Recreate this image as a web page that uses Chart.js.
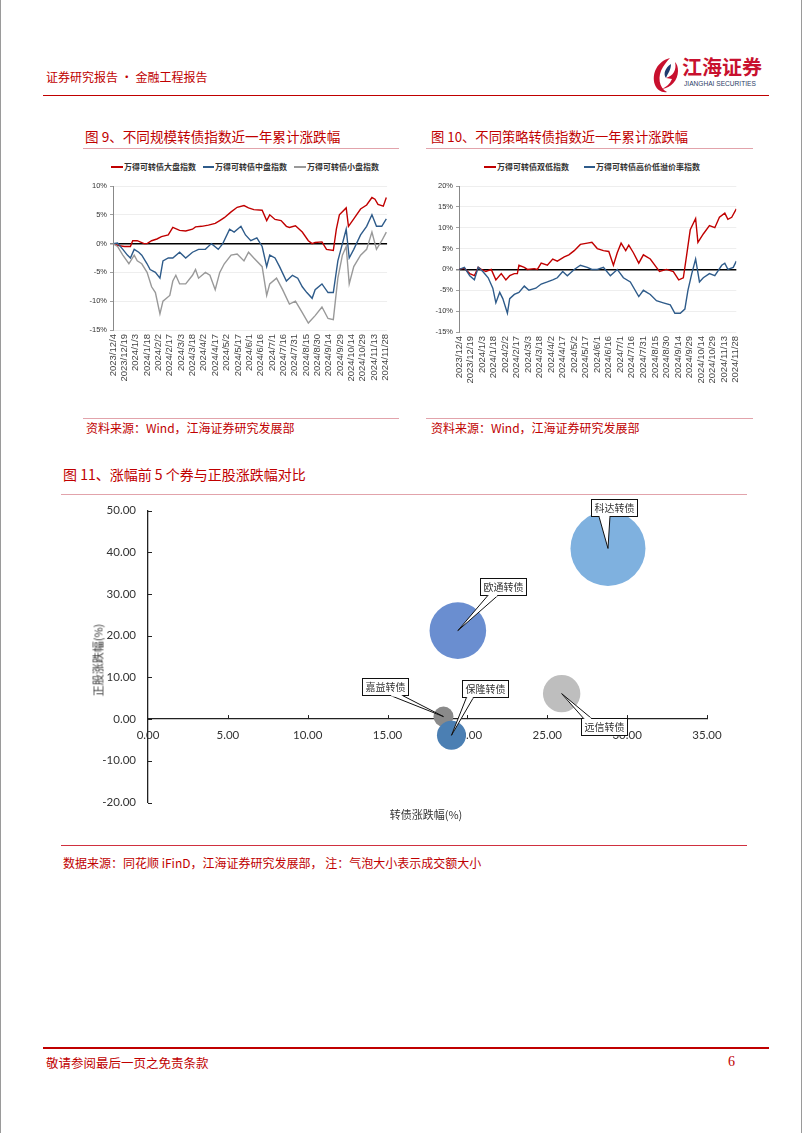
<!DOCTYPE html>
<html><head><meta charset="utf-8">
<script src="https://cdn.jsdelivr.net/npm/chart.js@4.4.1/dist/chart.umd.min.js"></script>
<style>
html,body{margin:0;padding:0;background:#fff;}
#page{position:relative;width:802px;height:1133px;overflow:hidden;font-family:'Noto Sans CJK SC',sans-serif;box-sizing:border-box;border-left:1px solid #9a9a9a;border-right:1px solid #9a9a9a;background:#fff;}
.t{position:absolute;white-space:nowrap;line-height:1;}
.red{color:#C00000;}
.ln{position:absolute;height:0;}
canvas{position:absolute;}
.lg{position:absolute;height:2px;}
.lt{position:absolute;white-space:nowrap;line-height:1;font-size:8px;font-weight:bold;color:#333;}
</style></head>
<body><div id="page">
<div class="t red" style="left:45px;top:71px;font-size:12px;">证券研究报告 · 金融工程报告</div>
<svg style="position:absolute;left:650px;top:56px" width="30" height="38" viewBox="0 0 30 38">
 <path d="M19 2 C7 5 0 17 4 29 C6 34 11 37 16 36 C8 32 6 20 12 11 C14 8 16 5 19 2 Z" fill="#C8102E"/>
 <path d="M24 6 C26 14 22 20 15 22 L21 23 C19 28 15 31 11 33 C20 32 27 24 27 15 C27 11 26 8 24 6 Z" fill="#C8102E"/>
 <path d="M20 8 C14 12 12 18 15 22 C17 17 20 14 20 8 Z" fill="#1F3A6E"/>
</svg>
<div class="t" style="left:681px;top:57px;font-size:20px;font-weight:bold;color:#C8102E;">江海证券</div>
<div class="t" style="left:683px;top:81px;font-size:6.6px;color:#2a3d66;font-family:'Liberation Sans';">JIANGHAI SECURITIES</div>
<div class="ln" style="left:42px;top:95px;width:726px;border-top:1.5px solid #C00000;"></div>

<div class="t red" style="left:84px;top:130px;font-size:13.6px;">图 9、不同规模转债指数近一年累计涨跌幅</div>
<div class="ln" style="left:82px;top:148px;width:316px;border-top:1px solid #E2A3AB;"></div>
<div class="t red" style="left:430px;top:130px;font-size:13.3px;">图 10、不同策略转债指数近一年累计涨跌幅</div>
<div class="ln" style="left:425px;top:148px;width:327px;border-top:1px solid #E2A3AB;"></div>

<div class="lg" style="left:110px;top:166px;width:12px;background:#C00000"></div><div class="lt" style="left:123px;top:163px">万得可转债大盘指数</div>
<div class="lg" style="left:202px;top:166px;width:11px;background:#2E5B8A"></div><div class="lt" style="left:214px;top:163px">万得可转债中盘指数</div>
<div class="lg" style="left:293px;top:166px;width:12px;background:#999"></div><div class="lt" style="left:306px;top:163px">万得可转债小盘指数</div>
<div class="lg" style="left:483px;top:166px;width:12px;background:#C00000"></div><div class="lt" style="left:496px;top:163px">万得可转债双低指数</div>
<div class="lg" style="left:583px;top:166px;width:11px;background:#2E5B8A"></div><div class="lt" style="left:595px;top:163px">万得可转债高价低溢价率指数</div>

<canvas id="c9" width="320" height="240" style="left:80px;top:176px"></canvas>
<canvas id="c10" width="330" height="240" style="left:420px;top:176px"></canvas>

<div class="ln" style="left:82px;top:418px;width:316px;border-top:1px solid #E2A3AB;"></div>
<div class="ln" style="left:425px;top:418px;width:327px;border-top:1px solid #E2A3AB;"></div>
<div class="t red" style="left:85px;top:422px;font-size:12px;">资料来源：Wind，江海证券研究发展部</div>
<div class="t red" style="left:430px;top:422px;font-size:12px;">资料来源：Wind，江海证券研究发展部</div>

<div class="t red" style="left:62px;top:467px;font-size:14px;">图 11、涨幅前 5 个券与正股涨跌幅对比</div>
<div class="ln" style="left:60px;top:494px;width:686px;border-top:1px solid #E2A3AB;"></div>
<canvas id="c11" width="690" height="340" style="left:60px;top:497px"></canvas>
<div class="t" style="left:97px;top:660px;font-size:11px;color:#333;transform:translate(-50%,-50%) rotate(-90deg);">正股涨跌幅(%)</div>
<div class="t" style="left:425px;top:814px;font-size:11px;color:#333;transform:translate(-50%,-50%);">转债涨跌幅(%)</div>
<div class="ln" style="left:60px;top:845px;width:686px;border-top:1px solid #D0303F;"></div>
<div class="t red" style="left:62px;top:857px;font-size:12px;">数据来源：同花顺 iFinD，江海证券研究发展部， 注：气泡大小表示成交额大小</div>

<div class="ln" style="left:42px;top:1047px;width:726px;border-top:2px solid #C00000;"></div>
<div class="t red" style="left:45px;top:1057px;font-size:12.5px;">敬请参阅最后一页之免责条款</div>
<div class="t red" style="left:727px;top:1055px;font-size:14px;font-family:'Liberation Serif';">6</div>
</div>
<script>
// ---- shared x tick labels (day offset from 2023/12/4) ----
const tickDays = [0,15,30,45,60,75,90,105,120,135,150,165,180,195,210,225,240,255,270,285,300,315,330,345,360];
const tickLabels = ['2023/12/4','2023/12/19','2024/1/3','2024/1/18','2024/2/2','2024/2/17','2024/3/3','2024/3/18','2024/4/2','2024/4/17','2024/5/2','2024/5/17','2024/6/1','2024/6/16','2024/7/1','2024/7/16','2024/7/31','2024/8/15','2024/8/30','2024/9/14','2024/9/29','2024/10/14','2024/10/29','2024/11/13','2024/11/28'];

// ---- Fig 9 ----
const bigDays = [0,6,15,23,26,32,41,45,51,58,64,73,79,88,96,105,109,117,126,135,141,147,156,164,173,179,186,197,203,207,214,222,229,233,241,250,258,263,267,276,282,291,295,299,308,311,318,327,335,342,346,350,357,361];
const bigVals = [0,-0.3,-0.5,-0.5,0.5,0.5,0,0,0.5,0.8,1.2,1.5,2.8,2.3,2.2,2.5,2.9,3.0,3.2,3.5,4.0,4.5,5.5,6.3,6.6,6.2,5.9,5.8,4.0,5.0,4.2,4.0,3.0,2.8,3.1,2.0,0.5,0,0.2,0.3,-1,-1.2,2.5,5.0,6.2,3.0,4.3,6.0,6.7,8.0,7.7,6.8,6.5,8.0];
const midDays = [0,6,13,19,23,28,34,38,45,49,56,62,66,73,79,88,96,105,113,122,130,139,145,154,160,169,175,182,190,197,203,207,214,220,229,237,244,250,256,263,267,276,284,291,297,301,308,312,318,327,335,342,348,355,361];
const midVals = [0,0.1,-1,-2,-2.5,-1,-1.5,-2,-3.5,-4.5,-5,-6,-3,-2.5,-2.5,-1.5,-2.5,-1.5,-1,-1,0,-1,0,2.5,2.0,3.0,1.5,0.5,1.0,-0.5,-4.0,-2,-2.5,-4,-6.5,-5.5,-6,-7.5,-8.5,-9.5,-8,-7,-8.5,-8.5,-3,-1,2.5,-2.5,-1,1.5,3.0,5,3,3,4.3];
const smallDays = [0,6,13,21,28,32,38,45,51,56,62,66,75,79,83,88,96,105,109,113,122,128,135,141,147,156,164,173,179,186,197,203,207,216,224,233,241,250,258,267,276,284,291,297,303,308,312,318,327,335,342,348,355,361];
const smallVals = [0,-0.5,-2,-3.5,-2,-3,-3.5,-5,-7.5,-8.5,-12.2,-10,-9,-6.5,-5.5,-7,-7,-5.5,-4.5,-6,-5,-5.5,-8,-5,-3.5,-2,-1.8,-3,-1.5,-2.5,-4,-9,-7,-6,-8,-10.5,-10,-12,-13.8,-12.5,-11,-13,-13.2,-6,-2,-0.5,-7,-4,-2,-1,2,-1,0.5,2];

// ---- Fig 10 ----
const dlDays = [0,7,14,20,25,29,35,42,48,55,61,66,72,76,78,85,89,98,102,107,115,122,128,137,143,150,158,167,173,180,188,195,201,206,211,217,221,227,234,240,249,257,261,270,279,286,292,296,301,308,311,318,326,333,339,346,350,355,361];
const dlVals = [0,0.3,-1,-1.5,0.5,0,-0.5,0,-2.5,-1,-2.5,-1.5,-1,-1,1,0.5,0,0.2,0,1.5,1,2.5,2.0,3.0,3.5,4.5,6,6.3,6.5,5,4.5,4.3,1,4,6.3,4.5,5.8,4,1.5,3.5,2.5,0.5,-0.5,0,-0.5,-2.5,-2.0,3,9.5,12.2,6.5,8.5,10.5,10,12.5,13.5,12,12.5,14.5];
const hpDays = [0,7,14,20,25,31,38,44,48,53,57,63,66,72,78,85,91,100,107,115,122,128,135,141,150,158,167,173,180,188,197,206,214,223,234,240,249,257,266,275,281,288,294,298,303,308,313,318,326,333,342,346,350,357,361];
const hpVals = [0,0.5,-1.5,-2.5,0.5,-0.5,-2,-4.5,-8,-5.5,-7,-10.5,-7,-6,-5.5,-4,-5,-4.5,-3.5,-3,-2.5,-2,-0.5,-1.5,0,1,0.5,0,0,0.5,-1.5,0,-2,-3,-6.5,-5,-6,-7.5,-8,-8.5,-10.5,-10.5,-9.5,-5,-1,2.5,-3,-2,-1,-1.5,1,1.5,0,0.5,2];

// ---- Fig 11 ----
const bondNames = ['科达转债','欧通转债','嘉益转债','保隆转债','远信转债'];
const cbChange = [28.8, 19.4, 18.5, 19.0, 25.9];
const stockChange = [40.9, 21.2, 0.6, -3.9, 6.1];
const bubbleSize = [37.5, 28.3, 10, 14.5, 18.7];
const bubbleColors = ['#7FB1DF','#6A8ED0','#8A8A8A','#4B7FB3','#BEBEBE'];
const calloutOffset = [[6,-41],[45,-44],[-58,-30],[34,-46.5],[42,33]];
const calloutBase = [[-15,-4],[-15,-5],[5,17],[-19,-12],[-20,-12]];

Chart.defaults.font.family = "'Liberation Sans', sans-serif";

function makeLine(id, sets, o){
  return new Chart(document.getElementById(id), {
    type:'line',
    data:{datasets: sets.map(s=>({label:s.label, data:s.days.map((d,i)=>({x:d,y:s.vals[i]})), borderColor:s.color, borderWidth:1.4, pointRadius:0, tension:0, fill:false}))},
    options:{
      responsive:false, animation:false,
      layout:{padding:{top:o.top,right:o.right,left:0,bottom:0}},
      plugins:{legend:{display:false},tooltip:{enabled:false}},
      scales:{
        x:{type:'linear',min:0,max:o.xMax,
          afterBuildTicks:s=>{s.ticks=tickDays.map(v=>({value:v}));},
          afterFit:s=>{s.height=o.xH;},
          grid:{display:false,drawTicks:false}, border:{display:false},
          ticks:{autoSkip:false,maxRotation:90,minRotation:90,padding:4,font:{size:9.5},color:'#444',
            callback:(v)=>tickLabels[tickDays.indexOf(v)]}},
        y:{min:o.yMin,max:o.yMax,
          afterFit:s=>{s.width=o.yW;},
          grid:{color:c=>c.tick && c.tick.value===0?'#000':'#EAEAEA', lineWidth:c=>c.tick && c.tick.value===0?1.5:0.8, tickColor:'#888', tickLength:3},
          border:{color:'#888',width:1},
          ticks:{stepSize:5,padding:3,font:{size:7.5},color:'#333',callback:v=>v+'%'}}
      }
    }
  });
}

makeLine('c9',[
  {label:'万得可转债小盘指数',days:smallDays,vals:smallVals,color:'#999999'},
  {label:'万得可转债中盘指数',days:midDays,vals:midVals,color:'#2E5B8A'},
  {label:'万得可转债大盘指数',days:bigDays,vals:bigVals,color:'#C00000'}
],{top:10,right:7,xMax:362,xH:86,yMin:-15,yMax:10,yW:32});

makeLine('c10',[
  {label:'万得可转债高价低溢价率指数',days:hpDays,vals:hpVals,color:'#2E5B8A'},
  {label:'万得可转债双低指数',days:dlDays,vals:dlVals,color:'#C00000'}
],{top:10,right:13,xMax:361,xH:84,yMin:-15,yMax:20,yW:38});

const innerTicks = {id:'innerTicks', beforeDatasetsDraw(chart){
  const {ctx, scales:{x,y}} = chart;
  const y0 = y.getPixelForValue(0), x0 = x.getPixelForValue(0);
  ctx.save(); ctx.strokeStyle='#222'; ctx.lineWidth=1;
  x.ticks.forEach(t=>{ if(t.value===0) return; const px=Math.round(x.getPixelForValue(t.value))+0.5; ctx.beginPath(); ctx.moveTo(px,y0-4); ctx.lineTo(px,y0); ctx.stroke(); });
  y.ticks.forEach(t=>{ const py=Math.round(y.getPixelForValue(t.value))+0.5; ctx.beginPath(); ctx.moveTo(x0,py); ctx.lineTo(x0+4,py); ctx.stroke(); });
  ctx.restore();
}};

const callouts = {id:'callouts', afterDatasetsDraw(chart){
  const ctx = chart.ctx; const meta = chart.getDatasetMeta(0);
  ctx.save();
  meta.data.forEach((el,i)=>{
    const cx=el.x, cy=el.y; const [dx,dy]=calloutOffset[i]; const [b1o,b2o]=calloutBase[i];
    const w=46,h=17; const bx=cx+dx, by=cy+dy; const left=Math.round(bx-w/2)+0.5, top=Math.round(by-h/2)+0.5;
    ctx.fillStyle='#fff'; ctx.strokeStyle='#111'; ctx.lineWidth=1;
    ctx.fillRect(left,top,w,h); ctx.strokeRect(left,top,w,h);
    const edgeY = dy<0 ? top+h : top;
    const b1=bx+b1o, b2=bx+b2o;
    ctx.beginPath(); ctx.moveTo(b1,edgeY); ctx.lineTo(cx,cy); ctx.lineTo(b2,edgeY); ctx.closePath(); ctx.fill();
    ctx.beginPath(); ctx.moveTo(b1,edgeY); ctx.lineTo(cx,cy); ctx.lineTo(b2,edgeY); ctx.stroke();
    ctx.fillRect(b1+0.8, edgeY-1, b2-b1-1.6, 2);
    ctx.fillStyle='#333'; ctx.font="10px 'Noto Sans CJK SC'"; ctx.textAlign='center'; ctx.textBaseline='middle';
    ctx.fillText(bondNames[i], left+w/2, top+h/2+0.5);
  });
  ctx.restore();
}};

function bubbleConfig(){
  return {
  type:'bubble',
  data:{datasets:[{label:'涨幅前5',data:bondNames.map((n,i)=>({x:cbChange[i],y:stockChange[i],r:bubbleSize[i]})),backgroundColor:bubbleColors,borderWidth:0,hoverRadius:0}]},
  options:{
    responsive:false, animation:false,
    layout:{padding:{top:13,right:44,left:0,bottom:35}},
    plugins:{legend:{display:false},tooltip:{enabled:false}},
    scales:{
      x:{type:'linear',min:0,max:35,position:{y:0},
        afterFit:s=>{s.height=0;},
        grid:{display:false,drawTicks:false}, border:{color:'#222',width:1.3},
        ticks:{stepSize:5,padding:9,font:{family:'Lato',size:11.5},color:'#333',callback:v=>v.toFixed(2)}},
      y:{min:-20,max:50,
        afterFit:s=>{s.width=87;},
        grid:{display:false,drawTicks:false}, border:{color:'#222',width:1.3},
        ticks:{stepSize:10,padding:12,font:{family:'Lato',size:11.5},color:'#333',callback:v=>v.toFixed(2)}}
    }
  },
  plugins:[innerTicks, callouts]
  };
}
// target plot area in page pixels: top 510, bottom 802 ; canvas starts at 497 with height 340
const cv = document.getElementById('c11');
let bc = new Chart(cv, bubbleConfig());
const ca = bc.chartArea;
const extraTop = ca.top - 13, extraBottom = (340 - 35) - ca.bottom;
if (Math.abs(extraTop) > 0.5 || Math.abs(extraBottom) > 0.5) {
  bc.destroy();
  const newH = Math.round(340 + extraTop + extraBottom);
  cv.width = 690; cv.height = newH;
  cv.style.top = Math.round(497 - extraTop) + 'px';
  cv.style.height = newH + 'px'; cv.style.width = '690px';
  bc = new Chart(cv, bubbleConfig());
}
</script>
</body></html>
